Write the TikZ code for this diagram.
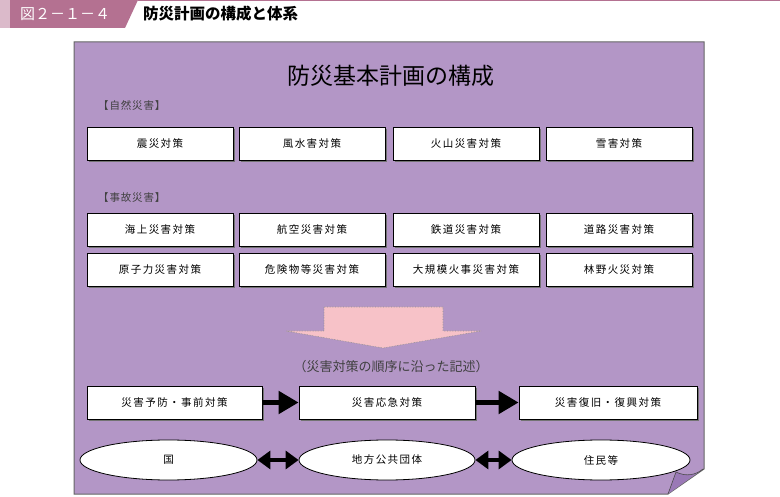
\documentclass[tikz,border=0pt]{standalone}
\usepackage{fontspec}
\usetikzlibrary{arrows.meta,shadows,shapes.geometric}
\newfontfamily\jp{Noto Sans CJK JP}
\newfontfamily\jpsp[LetterSpace=14]{Noto Sans CJK JP}
\newfontfamily\jplab[LetterSpace=8]{Noto Sans CJK JP}
\definecolor{boxpurple}{HTML}{B396C6}
\definecolor{foldpurple}{HTML}{9A79B6}
\definecolor{hdrband}{HTML}{B47191}
\definecolor{hdrlight}{HTML}{DBBACA}
\definecolor{pinkarrow}{HTML}{F7C2C8}
\tikzset{
  measure/.style={draw=black, line width=0.8pt, fill=white, minimum width=146pt, minimum height=33pt, inner sep=0pt,
    font=\jpsp\fontsize{10.5}{12}\selectfont,
    general shadow={fill=black!55, shadow xshift=1.6pt, shadow yshift=-1.6pt}},
  seqbox/.style={measure, minimum height=33pt},
  actor/.style={draw=black, line width=0.8pt, fill=white, ellipse, minimum height=40pt, inner sep=0pt,
    font=\jpsp\fontsize{10.5}{12}\selectfont},
  grouplabel/.style={anchor=west, inner sep=0pt, text=black!75, font=\jplab\fontsize{10.5}{12}\selectfont},
  seqarrow/.style={line width=5pt, -{Triangle[length=20pt,width=22pt]}, shorten <=-0.5pt},
  linkarrow/.style={line width=4.5pt, {Triangle[length=13pt,width=18pt]}-{Triangle[length=13pt,width=18pt]}}
}
\begin{document}
\begin{tikzpicture}[x=1pt,y=-1pt]
\useasboundingbox (0,0) rectangle (780,497);
\fill[white] (0,0) rectangle (780,497);
% header
\fill[hdrlight] (0,0) rectangle (10,28);
\fill[hdrband] (10,0) -- (138,0) -- (125,28) -- (10,28) -- cycle;
\draw[hdrband, line width=1.2pt] (138,0.6) -- (780,0.6);
\node[anchor=west, inner sep=0pt, text=white, font=\jp\fontsize{15}{17}\selectfont] (hnum) at (20,14) {図２－１－４};
\node[anchor=west, inner sep=0pt, font=\jp\bfseries\fontsize{15.5}{18}\selectfont] (htitle) at (143,14) {防災計画の構成と体系};
% purple sheet
\draw[fill=boxpurple, draw=black!60, line width=1pt] (74,42) -- (704,42) -- (704,469) -- (668,494) -- (74,494) -- cycle;
\fill[foldpurple] (676,472) .. controls (686,477) and (696,475) .. (703,469) -- (668,494) -- cycle;
\draw[black!70, line width=0.6pt] (668,494) -- (676,472) .. controls (686,477) and (696,475) .. (703,469);
% title
\node[font=\jp\fontsize{23}{26}\selectfont] (title) at (391,76) {防災基本計画の構成};
% natural disasters
\node[grouplabel] (natural) at (98,106) {【自然災害】};
\node[measure] (n1) at (160,143.5) {震災対策};
\node[measure] (n2) at (312,143.5) {風水害対策};
\node[measure] (n3) at (466,143.5) {火山災害対策};
\node[measure] (n4) at (619,143.5) {雪害対策};
% accident disasters
\node[grouplabel] (accident) at (98,198) {【事故災害】};
\node[measure] (a1) at (160,230) {海上災害対策};
\node[measure] (a2) at (312,230) {航空災害対策};
\node[measure] (a3) at (466,230) {鉄道災害対策};
\node[measure] (a4) at (619,230) {道路災害対策};
\node[measure] (a5) at (160,270) {原子力災害対策};
\node[measure] (a6) at (312,270) {危険物等災害対策};
\node[measure] (a7) at (466,270) {大規模火事災害対策};
\node[measure] (a8) at (619,270) {林野火災対策};
% pink arrow
\draw[fill=pinkarrow, draw=black!45, densely dotted, line width=0.6pt]
  (324,307) -- (443,307) -- (443,331) -- (481,331) -- (383,348) -- (286,331) -- (324,331) -- cycle;
\node[text=black!75, font=\jp\fontsize{13}{15}\selectfont] (order) at (391,367) {（災害対策の順序に沿った記述）};
% sequence
\node[seqbox, minimum width=175pt] (s1) at (174.5,402.5) {災害予防・事前対策};
\node[seqbox, minimum width=176pt] (s2) at (387,402.5) {災害応急対策};
\node[seqbox, minimum width=178pt] (s3) at (608,402.5) {災害復旧・復興対策};
\draw[seqarrow] (s1.east) -- (s2.west);
\draw[seqarrow] (s2.east) -- (s3.west);
% actors
\node[actor, minimum width=177pt] (e1) at (168.5,460) {国};
\node[actor, minimum width=176pt] (e2) at (387,460) {地方公共団体};
\node[actor, minimum width=178pt] (e3) at (601,460) {住民等};
\draw[linkarrow] (e1.east) -- (e2.west);
\draw[linkarrow] (e2.east) -- (e3.west);
\end{tikzpicture}
\end{document}
